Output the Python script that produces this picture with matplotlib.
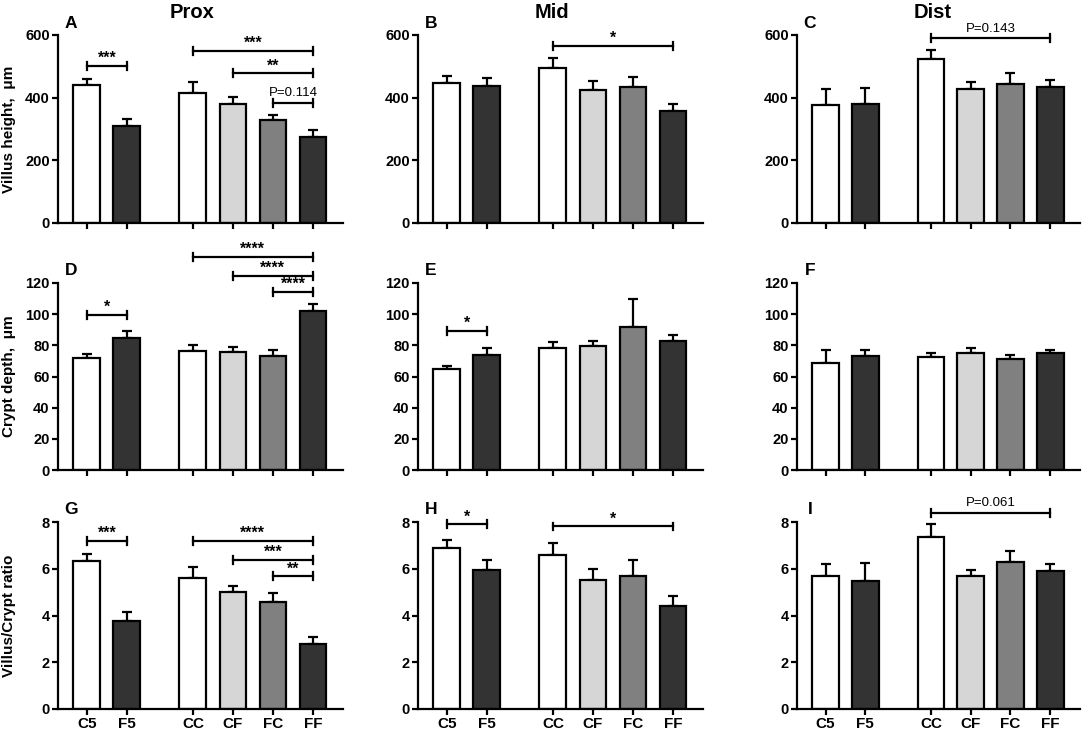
import matplotlib.pyplot as plt
import numpy as np

plt.rcParams['font.family'] = ['Liberation Sans', 'DejaVu Sans']

groups = ['C5', 'F5', 'CC', 'CF', 'FC', 'FF']
bar_colors = ['white', '#333333', 'white', '#d6d6d6', '#808080', '#333333']
sections = ['Prox', 'Mid', 'Dist']
letters = ['A', 'B', 'C', 'D', 'E', 'F', 'G', 'H', 'I']

# villus height (um)
villus_prox = [441, 310, 414, 379, 329, 276]
villus_prox_err = [18, 23, 37, 24, 16, 21]
villus_mid = [446, 437, 496, 425, 435, 356]
villus_mid_err = [23, 25, 32, 28, 32, 24]
villus_dist = [377, 380, 524, 428, 444, 435]
villus_dist_err = [50, 52, 28, 23, 34, 21]

# crypt depth (um)
crypt_prox = [71.6, 84.6, 76.1, 75.9, 72.9, 102.2]
crypt_prox_err = [2.8, 4.3, 3.8, 3.0, 3.8, 4.3]
crypt_mid = [64.9, 73.7, 78.0, 79.5, 91.7, 83.1]
crypt_mid_err = [2.0, 4.3, 4.3, 3.6, 18.2, 3.5]
crypt_dist = [68.4, 73.1, 72.6, 75.2, 71.4, 75.2]
crypt_dist_err = [8.5, 4.0, 2.6, 3.4, 2.5, 1.9]

# villus / crypt ratio
ratio_prox = [6.32, 3.77, 5.59, 5.00, 4.58, 2.80]
ratio_prox_err = [0.30, 0.38, 0.48, 0.27, 0.38, 0.30]
ratio_mid = [6.90, 5.96, 6.59, 5.51, 5.69, 4.40]
ratio_mid_err = [0.34, 0.43, 0.53, 0.50, 0.67, 0.43]
ratio_dist = [5.67, 5.49, 7.36, 5.67, 6.30, 5.89]
ratio_dist_err = [0.55, 0.77, 0.57, 0.27, 0.47, 0.31]

# significance brackets: (first bar, second bar, height, label)
brackets_A = [(0, 1, 502, '***'), (2, 5, 549, '***'), (3, 5, 478, '**'), (4, 5, 382, 'P=0.114')]
brackets_B = [(2, 5, 566, '*')]
brackets_C = [(2, 5, 589, 'P=0.143')]
brackets_D = [(0, 1, 99.6, '*'), (2, 5, 136.7, '****'), (3, 5, 124.7, '****'), (4, 5, 114.4, '****')]
brackets_E = [(0, 1, 89.4, '*')]
brackets_F = []
brackets_G = [(0, 1, 7.19, '***'), (2, 5, 7.19, '****'), (3, 5, 6.39, '***'), (4, 5, 5.68, '**')]
brackets_H = [(0, 1, 7.9, '*'), (2, 5, 7.81, '*')]
brackets_I = [(2, 5, 8.4, 'P=0.061')]

rows = [
    ('Villus height,  \u03bcm', 600, [0, 200, 400, 600],
     [(villus_prox, villus_prox_err, brackets_A),
      (villus_mid, villus_mid_err, brackets_B),
      (villus_dist, villus_dist_err, brackets_C)]),
    ('Crypt depth,  \u03bcm', 120, [0, 20, 40, 60, 80, 100, 120],
     [(crypt_prox, crypt_prox_err, brackets_D),
      (crypt_mid, crypt_mid_err, brackets_E),
      (crypt_dist, crypt_dist_err, brackets_F)]),
    ('Villus/Crypt ratio', 8, [0, 2, 4, 6, 8],
     [(ratio_prox, ratio_prox_err, brackets_G),
      (ratio_mid, ratio_mid_err, brackets_H),
      (ratio_dist, ratio_dist_err, brackets_I)]),
]

W, H = 1084, 731
fig = plt.figure(figsize=(W / 100, H / 100), dpi=100)

col_left = [58, 418, 797]
col_width = [285, 285, 283]
row_top = [35, 283, 522]
row_bottom = [223, 470, 709]

xpos = np.array([0, 1, 2.65, 3.65, 4.65, 5.65])
width = 0.67

for r, (ylabel, ymax, yticks, panels) in enumerate(rows):
    for c, (vals, errs, brackets) in enumerate(panels):
        ax = fig.add_axes([col_left[c] / W, 1 - row_bottom[r] / H,
                           col_width[c] / W, (row_bottom[r] - row_top[r]) / H])
        ax.bar(xpos, vals, width=width, color=bar_colors, edgecolor='black',
               linewidth=1.6, zorder=2)
        ax.errorbar(xpos, vals, yerr=[np.zeros(len(errs)), errs], fmt='none',
                    ecolor='black', elinewidth=1.6, capsize=3.5, capthick=1.6, zorder=1)
        ax.set_xlim(-0.72, 6.4)
        ax.set_ylim(0, ymax)
        ax.set_yticks(yticks)
        ax.set_xticks(xpos)
        if r == 2:
            ax.set_xticklabels(groups, fontsize=11, fontweight='bold')
        else:
            ax.set_xticklabels([])
        for lab in ax.get_yticklabels():
            lab.set_fontweight('bold')
            lab.set_fontsize(10.5)
        ax.tick_params(axis='both', direction='out', length=4, width=1.6, pad=2)
        ax.spines['top'].set_visible(False)
        ax.spines['right'].set_visible(False)
        ax.spines['left'].set_linewidth(1.6)
        ax.spines['bottom'].set_linewidth(1.6)

        h = 0.021 * ymax
        for i, j, y, label in brackets:
            x1, x2 = xpos[i], xpos[j]
            ax.plot([x1, x2], [y, y], color='black', lw=1.6, clip_on=False)
            ax.plot([x1, x1], [y - h, y + h], color='black', lw=1.6, clip_on=False)
            ax.plot([x2, x2], [y - h, y + h], color='black', lw=1.6, clip_on=False)
            if label.startswith('P'):
                ax.annotate(label, xy=((x1 + x2) / 2, y), xytext=(0, 5),
                            textcoords='offset points', ha='center', va='baseline',
                            fontsize=9.5, annotation_clip=False)
            else:
                ax.annotate(label, xy=((x1 + x2) / 2, y), xytext=(0, 2),
                            textcoords='offset points', ha='center', va='baseline',
                            fontsize=11.5, fontweight='bold', annotation_clip=False)

        fig.text((col_left[c] + 13) / W, 1 - (row_top[r] - 12) / H, letters[r * 3 + c],
                 fontsize=12.5, fontweight='bold', ha='center', va='center')
        if c == 0:
            fig.text(9 / W, 1 - (row_top[r] + row_bottom[r]) / 2 / H, ylabel,
                     rotation=90, fontsize=11, fontweight='bold',
                     ha='center', va='center')

title_x = [192, 552, 933]
for c, name in enumerate(sections):
    fig.text(title_x[c] / W, 1 - 13 / H, name, fontsize=14.5, fontweight='bold',
             ha='center', va='center')

fig.savefig('out.png', dpi=100)
